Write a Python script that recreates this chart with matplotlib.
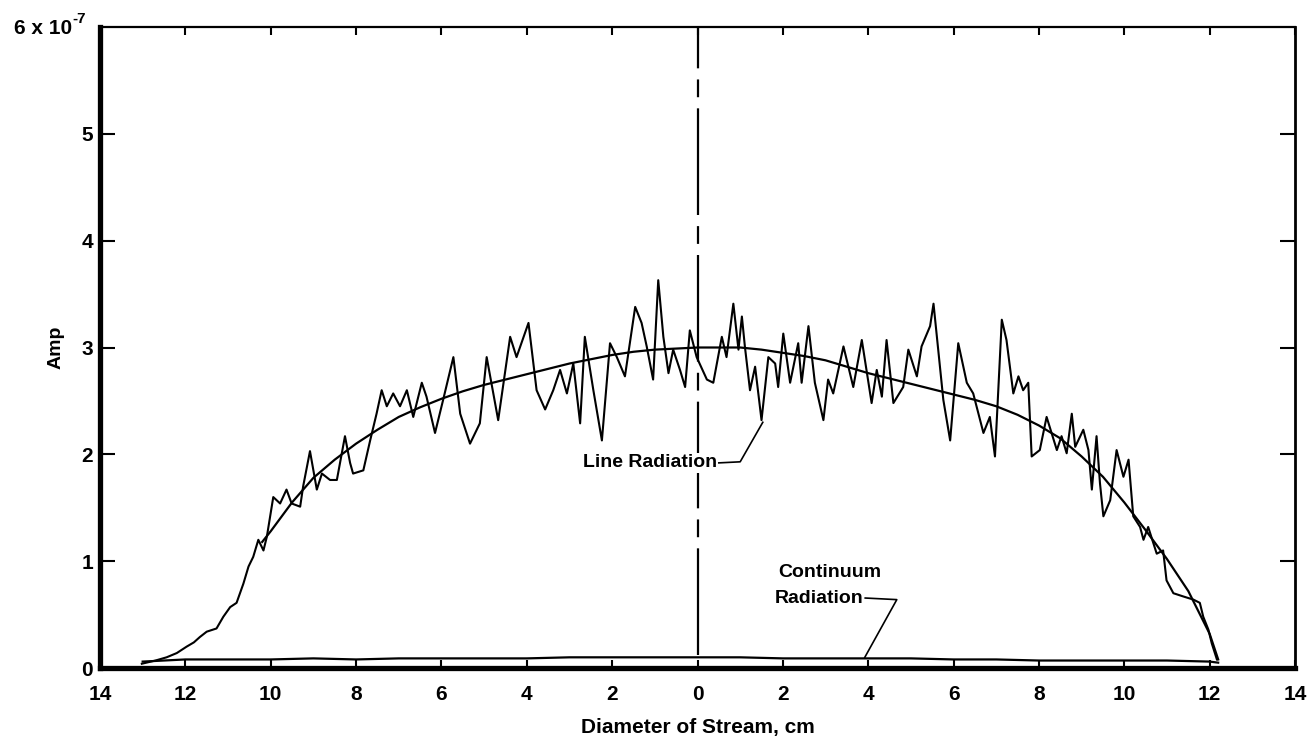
import matplotlib
matplotlib.use('Agg')
import matplotlib.pyplot as plt

plt.rcParams['font.family'] = ['Liberation Sans', 'DejaVu Sans']
plt.rcParams['font.weight'] = 'bold'
plt.rcParams['axes.labelweight'] = 'bold'

# noisy line radiation trace (x in cm, y in units of 1e-7 amp)
trace_x = [-13.02, -12.7, -12.44, -12.2, -11.97, -11.8, -11.66, -11.5, -11.27, -11.11,
           -10.95, -10.8, -10.64, -10.52, -10.41, -10.29, -10.17, -10.09, -9.94, -9.78,
           -9.63, -9.51, -9.31, -9.24, -9.08, -8.92, -8.8, -8.61, -8.45, -8.26,
           -8.14, -8.07, -7.83, -7.67, -7.52, -7.4, -7.28, -7.13, -6.97, -6.81,
           -6.66, -6.46, -6.35, -6.15, -5.96, -5.72, -5.56, -5.33, -5.1, -4.94,
           -4.67, -4.39, -4.24, -3.96, -3.77, -3.57, -3.38, -3.22, -3.06, -2.91,
           -2.75, -2.64, -2.44, -2.24, -2.05, -1.89, -1.7, -1.46, -1.31, -1.19,
           -1.04, -0.92, -0.8, -0.68, -0.57, -0.41, -0.29, -0.18, -0.02, 0.22,
           0.37, 0.57, 0.68, 0.84, 0.96, 1.04, 1.11, 1.23, 1.35, 1.5,
           1.66, 1.82, 1.89, 2.01, 2.17, 2.36, 2.44, 2.6, 2.75, 2.95,
           3.06, 3.18, 3.42, 3.65, 3.85, 4.08, 4.2, 4.32, 4.43, 4.59,
           4.82, 4.94, 5.14, 5.25, 5.45, 5.53, 5.64, 5.76, 5.92, 6.11,
           6.31, 6.46, 6.7, 6.85, 6.97, 7.13, 7.24, 7.4, 7.52, 7.63,
           7.75, 7.83, 8.02, 8.18, 8.42, 8.53, 8.65, 8.77, 8.85, 9.04,
           9.16, 9.24, 9.35, 9.43, 9.51, 9.67, 9.82, 9.98, 10.1, 10.21,
           10.37, 10.45, 10.56, 10.76, 10.91, 10.99, 11.15, 11.38, 11.62, 11.77,
           11.85, 11.97, 12.05, 12.17]
trace_y = [0.04, 0.07, 0.10, 0.14, 0.20, 0.24, 0.29, 0.34, 0.37, 0.48,
           0.57, 0.61, 0.79, 0.95, 1.04, 1.20, 1.10, 1.23, 1.60, 1.54,
           1.67, 1.54, 1.51, 1.70, 2.03, 1.67, 1.82, 1.76, 1.76, 2.17,
           1.92, 1.82, 1.85, 2.13, 2.38, 2.60, 2.45, 2.57, 2.45, 2.60,
           2.35, 2.67, 2.54, 2.20, 2.51, 2.91, 2.38, 2.10, 2.29, 2.91,
           2.32, 3.10, 2.91, 3.23, 2.60, 2.42, 2.60, 2.79, 2.57, 2.85,
           2.29, 3.10, 2.60, 2.13, 3.04, 2.91, 2.73, 3.38, 3.23, 3.01,
           2.70, 3.63, 3.10, 2.76, 2.98, 2.79, 2.63, 3.16, 2.91, 2.70,
           2.67, 3.10, 2.91, 3.41, 2.98, 3.29, 3.01, 2.60, 2.82, 2.32,
           2.91, 2.85, 2.63, 3.13, 2.67, 3.04, 2.67, 3.20, 2.67, 2.32,
           2.70, 2.57, 3.01, 2.63, 3.07, 2.48, 2.79, 2.54, 3.07, 2.48,
           2.63, 2.98, 2.73, 3.01, 3.20, 3.41, 2.98, 2.51, 2.13, 3.04,
           2.67, 2.57, 2.20, 2.35, 1.98, 3.26, 3.07, 2.57, 2.73, 2.60,
           2.67, 1.98, 2.04, 2.35, 2.04, 2.17, 2.01, 2.38, 2.07, 2.23,
           2.04, 1.67, 2.17, 1.73, 1.42, 1.57, 2.04, 1.79, 1.95, 1.42,
           1.32, 1.20, 1.32, 1.07, 1.10, 0.82, 0.70, 0.67, 0.64, 0.61,
           0.48, 0.36, 0.23, 0.08]

# smooth fitted curve
fit_x = [-10.2, -10.0, -9.5, -9.0, -8.5, -8.0, -7.5, -7.0, -6.5, -6.0, -5.5, -5.0,
         -4.5, -4.0, -3.5, -3.0, -2.5, -2.0, -1.5, -1.0, -0.5, 0.0, 0.5, 1.0,
         1.5, 2.0, 2.5, 3.0, 3.5, 4.0, 4.5, 5.0, 5.5, 6.0, 6.5, 7.0,
         7.5, 8.0, 8.5, 9.0, 9.5, 10.0, 10.5, 11.0, 11.5, 12.0, 12.2]
fit_y = [1.18, 1.28, 1.55, 1.78, 1.95, 2.10, 2.23, 2.35, 2.44, 2.52, 2.59, 2.65,
         2.70, 2.75, 2.80, 2.85, 2.89, 2.93, 2.96, 2.98, 2.99, 3.00, 3.00, 3.00,
         2.98, 2.95, 2.92, 2.88, 2.82, 2.76, 2.71, 2.66, 2.61, 2.56, 2.51, 2.45,
         2.37, 2.27, 2.15, 1.98, 1.79, 1.55, 1.29, 1.02, 0.72, 0.32, 0.08]

# continuum radiation
cont_x = [-13.0, -12.0, -11.0, -10.0, -9.0, -8.0, -7.0, -6.0, -5.0, -4.0, -3.0, -2.0,
          -1.0, 0.0, 1.0, 2.0, 3.0, 4.0, 5.0, 6.0, 7.0, 8.0, 9.0, 10.0,
          11.0, 12.0, 12.2]
cont_y = [0.06, 0.08, 0.08, 0.08, 0.09, 0.08, 0.09, 0.09, 0.09, 0.09, 0.10, 0.10,
          0.10, 0.10, 0.10, 0.09, 0.09, 0.09, 0.09, 0.08, 0.08, 0.07, 0.07, 0.07,
          0.07, 0.06, 0.05]

xticks = [-14, -12, -10, -8, -6, -4, -2, 0, 2, 4, 6, 8, 10, 12, 14]
xtick_labels = ['14', '12', '10', '8', '6', '4', '2', '0', '2', '4', '6', '8', '10', '12', '14']
yticks = [0, 1, 2, 3, 4, 5]
ytick_labels = ['0', '1', '2', '3', '4', '5']

fig = plt.figure(figsize=(13.15, 7.53), dpi=100)
ax = fig.add_axes([100 / 1315, 85 / 753, 1195 / 1315, 641 / 753])

ax.plot(trace_x, trace_y, color='black', lw=1.5)
ax.plot(fit_x, fit_y, color='black', lw=1.6)
ax.plot(cont_x, cont_y, color='black', lw=1.6)

# centre line
ax.axvline(0, ymin=0.02, ymax=1, color='black', lw=1.6,
           linestyle=(0, (48, 5, 8, 5)), zorder=1)

ax.set_xlim(-14, 14)
ax.set_ylim(0, 6)
ax.set_xticks(xticks)
ax.set_xticklabels(xtick_labels)
ax.set_yticks(yticks)
ax.set_yticklabels(ytick_labels)
ax.tick_params(axis='x', direction='in', top=True, length=6, width=1.5,
               labelsize=15, pad=12)
ax.tick_params(axis='y', direction='in', right=True, length=11, width=1.5,
               labelsize=15, pad=5)

ax.spines['left'].set_linewidth(3.8)
ax.spines['bottom'].set_linewidth(3.8)
ax.spines['top'].set_linewidth(1.6)
ax.spines['right'].set_linewidth(2.0)

ax.set_xlabel('Diameter of Stream, cm', fontsize=15, labelpad=10)
ax.set_ylabel('Amp', fontsize=14, labelpad=12)

# top y label
fig.text(72 / 1315, 1 - 28 / 753, '6 x 10', ha='right', va='center', fontsize=15)
fig.text(72 / 1315, 1 - 19 / 753, '-7', ha='left', va='center', fontsize=11)

# annotations
ax.text(0.46, 1.92, 'Line Radiation', ha='right', va='center', fontsize=14, zorder=3,
        bbox=dict(facecolor='white', edgecolor='none', pad=1))
ax.plot([0.5, 1.0, 1.53], [1.92, 1.93, 2.30], color='black', lw=1.2, zorder=4)

ax.text(4.32, 0.89, 'Continuum', ha='right', va='center', fontsize=14)
ax.text(3.88, 0.655, 'Radiation', ha='right', va='center', fontsize=14)
ax.plot([3.93, 4.67, 3.92], [0.655, 0.64, 0.10], color='black', lw=1.2)

fig.savefig('out.png', dpi=100)
